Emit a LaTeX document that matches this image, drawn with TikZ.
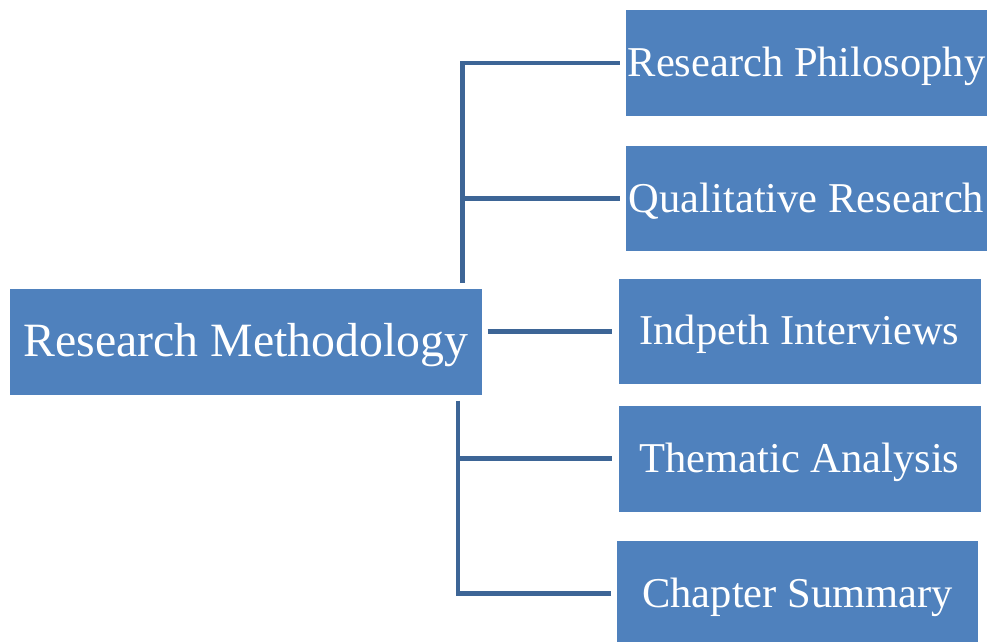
\documentclass[tikz,border=0pt]{standalone}
\usepackage{fontspec}
\setmainfont{Liberation Serif}
\usetikzlibrary{calc}
\definecolor{boxblue}{HTML}{4F81BD}
\definecolor{linkblue}{HTML}{3D6596}
\begin{document}
\begin{tikzpicture}[x=1pt,y=-1pt,
  topic/.style={fill=boxblue,draw=none,text=white,inner sep=0pt,
    text height=38pt,text depth=10.6pt,
    minimum width=361pt,minimum height=105.5pt,font=\fontsize{42.5}{50}\selectfont},
  conn/.style={draw=linkblue,line width=4.8pt,line join=miter}]
\useasboundingbox (0,0) rectangle (989,642);
\node[fill=boxblue,text=white,inner sep=0pt,minimum width=471.5pt,minimum height=106.5pt,
  text height=42pt,text depth=12pt,
  font=\fontsize{47.8}{56}\selectfont] (root) at (245.75,341.75) {Research Methodology};
\node[topic] (b1) at (806.5,63) {Research Philosophy};
\node[topic] (b2) at (806.5,198.5) {Qualitative Research};
\node[topic,minimum width=362pt] (b3) at (799.5,331.25) {Indpeth Interviews};
\node[topic,minimum width=362pt] (b4) at (799.5,458.75) {Thematic Analysis};
\node[topic] (b5) at (797.5,593.5) {Chapter Summary};
% upper branch
\coordinate (vtop) at ([xshift=217pt,yshift=5.5pt]root.north);
\draw[conn] ([xshift=-6pt]b1.west) -| (vtop);
\draw[conn] ([xshift=-6pt]b2.west) -- (vtop |- b2.west);
% middle branch
\draw[conn] ($(b3.west -| root.east)+(6,0)$) -- ([xshift=-6pt]b3.west);
% lower branch
\coordinate (vbot) at ([xshift=212.25pt,yshift=-5.5pt]root.south);
\draw[conn] (vbot) |- ([xshift=-6pt]b5.west);
\draw[conn] (vbot |- b4.west) -- ([xshift=-6pt]b4.west);
\end{tikzpicture}
\end{document}
